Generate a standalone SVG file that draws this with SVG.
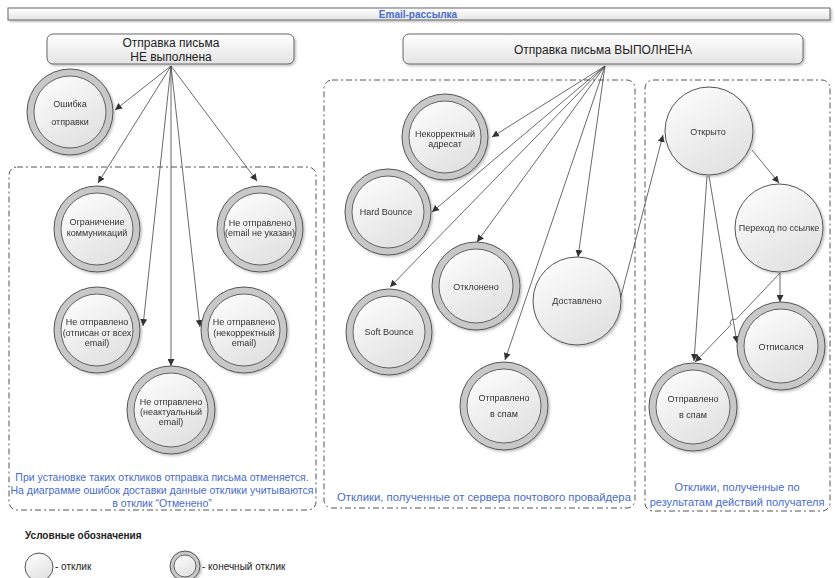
<svg xmlns="http://www.w3.org/2000/svg" width="835" height="578" viewBox="0 0 835 578">
<defs>
<linearGradient id="g" x1="0" y1="0" x2="0.6" y2="1">
<stop offset="0" stop-color="#ffffff"/>
<stop offset="1" stop-color="#e2e2e2"/>
</linearGradient>
<linearGradient id="gb" x1="0" y1="0" x2="0" y2="1">
<stop offset="0" stop-color="#ffffff"/>
<stop offset="1" stop-color="#e4e4e4"/>
</linearGradient>
<filter id="sh" x="-20%" y="-20%" width="140%" height="140%">
<feDropShadow dx="1.5" dy="1.5" stdDeviation="1.2" flood-color="#000" flood-opacity="0.25"/>
</filter>
<marker id="ar" viewBox="0 0 10 10" refX="10" refY="5" markerWidth="7" markerHeight="7" orient="auto" markerUnits="userSpaceOnUse">
<path d="M0,0 L10,5 L0,10 z" fill="#333"/>
</marker>
</defs>
<style>
.box{fill:url(#gb);stroke:#666;stroke-width:1;filter:url(#sh)}
.ring{fill:#c8c8c8;stroke:#555;stroke-width:1}
.in{fill:url(#g);stroke:#555;stroke-width:0.9}
.sim{fill:url(#g);stroke:#555;stroke-width:1}
.fin{filter:url(#sh)}
.t{font-family:"Liberation Sans",Arial,sans-serif;font-size:9px;fill:#333;text-anchor:middle}
.bt{font-family:"Liberation Sans",Arial,sans-serif;font-size:12px;fill:#222;text-anchor:middle}
.bl{font-family:"Liberation Sans",Arial,sans-serif;font-size:10.5px;fill:#4a6bcc;text-anchor:middle}
.bl2{font-family:"Liberation Sans",Arial,sans-serif;font-size:11.3px;fill:#4a6bcc;text-anchor:middle}
.bl3{font-family:"Liberation Sans",Arial,sans-serif;font-size:11px;fill:#4a6bcc;text-anchor:middle}
.reg{fill:none;stroke:#555;stroke-width:1;stroke-dasharray:6 3 2 3}
.c{fill:none;stroke:#444;stroke-width:0.8;marker-end:url(#ar)}
.lg{font-family:"Liberation Sans",Arial,sans-serif;font-size:10px;fill:#222}
</style>

<g id="title">
<rect x="8" y="8" width="822" height="12" class="box"/>
<text x="418" y="18" font-family="Liberation Sans, Arial, sans-serif" font-size="10" font-weight="bold" fill="#4a6bcc" text-anchor="middle">Email-рассылка</text>
</g>

<g id="regions">
<rect x="9" y="167" width="307" height="343" rx="8" class="reg"/>
<rect x="324" y="80" width="311" height="428" rx="8" class="reg"/>
<rect x="645" y="80" width="185" height="431" rx="8" class="reg"/>
</g>

<g id="box-not-sent">
<rect x="47" y="34" width="247" height="30" rx="6" class="box"/>
<text class="bt" x="171" y="47">Отправка письма</text>
<text class="bt" x="171" y="61">НЕ выполнена</text>
</g>
<g id="box-sent">
<rect x="403" y="34" width="400" height="30" rx="6" class="box"/>
<text class="bt" x="603" y="54">Отправка письма ВЫПОЛНЕНА</text>
</g>

<g id="connectors">
<line class="c" x1="171" y1="66" x2="115" y2="110"/>
<line class="c" x1="171" y1="66" x2="98" y2="183"/>
<line class="c" x1="171" y1="66" x2="143" y2="326"/>
<line class="c" x1="171" y1="66" x2="171" y2="366"/>
<line class="c" x1="171" y1="66" x2="200" y2="327"/>
<line class="c" x1="171" y1="66" x2="257" y2="181"/>
<line class="c" x1="605" y1="66" x2="492" y2="137"/>
<line class="c" x1="605" y1="66" x2="432" y2="212"/>
<line class="c" x1="605" y1="66" x2="477" y2="242"/>
<line class="c" x1="605" y1="66" x2="390" y2="287"/>
<line class="c" x1="605" y1="66" x2="578" y2="257"/>
<line class="c" x1="605" y1="66" x2="505" y2="360"/>
<line class="c" x1="620" y1="300" x2="663" y2="135"/>
<line class="c" x1="752" y1="150" x2="779" y2="183"/>
<line class="c" x1="780" y1="273" x2="780" y2="302"/>
<line class="c" x1="707" y1="176" x2="694" y2="361"/>
<line class="c" x1="709" y1="176" x2="737" y2="343"/>
<path class="c" d="M780,273 L735.8,319.7 A3.5,3.5 0 0 0 731,324.7 L695,362"/>
</g>

<g id="n-error" class="fin">
<circle class="ring" cx="70" cy="112" r="43"/><circle class="in" cx="70" cy="112" r="36"/>
<text class="t" x="70" y="107">Ошибка</text><text class="t" x="70" y="125">отправки</text>
</g>
<g id="n-limit" class="fin">
<circle class="ring" cx="97" cy="229" r="43"/><circle class="in" cx="97" cy="229" r="36"/>
<text class="t" x="97" y="225">Ограничение</text><text class="t" x="97" y="236">коммуникаций</text>
</g>
<g id="n-noemail" class="fin">
<circle class="ring" cx="260" cy="229" r="43"/><circle class="in" cx="260" cy="229" r="36"/>
<text class="t" x="260" y="226">Не отправлено</text><text class="t" x="260" y="236">(email не указан)</text>
</g>
<g id="n-unsub" class="fin">
<circle class="ring" cx="97" cy="330" r="43"/><circle class="in" cx="97" cy="330" r="36"/>
<text class="t" x="97" y="325">Не отправлено</text><text class="t" x="97" y="336">(отписан от всех</text><text class="t" x="97" y="346">email)</text>
</g>
<g id="n-incorrect" class="fin">
<circle class="ring" cx="244" cy="330" r="43"/><circle class="in" cx="244" cy="330" r="36"/>
<text class="t" x="244" y="325">Не отправлено</text><text class="t" x="244" y="336">(некорректный</text><text class="t" x="244" y="346">email)</text>
</g>
<g id="n-outdated" class="fin">
<circle class="ring" cx="171" cy="410" r="44"/><circle class="in" cx="171" cy="410" r="37"/>
<text class="t" x="171" y="405">Не отправлено</text><text class="t" x="171" y="415">(неактуальный</text><text class="t" x="171" y="425">email)</text>
</g>

<g id="n-badaddr" class="fin">
<circle class="ring" cx="445" cy="137" r="43"/><circle class="in" cx="445" cy="137" r="36"/>
<text class="t" x="445" y="137">Некорректный</text><text class="t" x="445" y="147">адресат</text>
</g>
<g id="n-hard" class="fin">
<circle class="ring" cx="388" cy="212" r="43"/><circle class="in" cx="388" cy="212" r="36"/>
<text class="t" x="386" y="215">Hard Bounce</text>
</g>
<g id="n-rejected" class="fin">
<circle class="ring" cx="476" cy="286" r="44"/><circle class="in" cx="476" cy="286" r="37"/>
<text class="t" x="476" y="290">Отклонено</text>
</g>
<g id="n-soft" class="fin">
<circle class="ring" cx="389" cy="332" r="43"/><circle class="in" cx="389" cy="332" r="36"/>
<text class="t" x="389" y="335">Soft Bounce</text>
</g>
<g id="n-delivered" class="fin">
<circle class="sim" cx="577" cy="301" r="44"/>
<text class="t" x="577" y="304">Доставлено</text>
</g>
<g id="n-spam1" class="fin">
<circle class="ring" cx="504" cy="406" r="44"/><circle class="in" cx="504" cy="406" r="37"/>
<text class="t" x="504" y="401">Отправлено</text><text class="t" x="504" y="417">в спам</text>
</g>

<g id="n-opened" class="fin">
<circle class="sim" cx="709" cy="131" r="44"/>
<text class="t" x="708" y="135">Открыто</text>
</g>
<g id="n-click" class="fin">
<circle class="sim" cx="779" cy="228" r="44"/>
<text class="t" x="779" y="231">Переход по ссылке</text>
</g>
<g id="n-unsubscribed" class="fin">
<circle class="ring" cx="781" cy="346" r="44"/><circle class="in" cx="781" cy="346" r="37"/>
<text class="t" x="781" y="350">Отписался</text>
</g>
<g id="n-spam2" class="fin">
<circle class="ring" cx="693" cy="407" r="44"/><circle class="in" cx="693" cy="407" r="37"/>
<text class="t" x="693" y="402">Отправлено</text><text class="t" x="693" y="418">в спам</text>
</g>

<g id="notes">
<text class="bl" x="162" y="481">При установке таких откликов отправка письма отменяется.</text>
<text class="bl" x="162" y="494">На диаграмме ошибок доставки данные отклики учитываются</text>
<text class="bl" x="162" y="507">в отклик “Отменено”</text>
<text class="bl2" x="484" y="501">Отклики, полученные от сервера почтового провайдера</text>
<text class="bl3" x="737" y="491">Отклики, полученные по</text>
<text class="bl3" x="737" y="506">результатам действий получателя</text>
</g>

<g id="legend">
<text class="lg" x="25" y="539" font-weight="bold">Условные обозначения</text>
<circle class="sim" cx="39" cy="567" r="14"/>
<text class="lg" x="55" y="570">- отклик</text>
<g class="fin"><circle class="ring" cx="185" cy="566" r="15"/><circle class="in" cx="185" cy="566" r="11"/></g>
<text class="lg" x="202" y="570">- конечный отклик</text>
</g>
</svg>
